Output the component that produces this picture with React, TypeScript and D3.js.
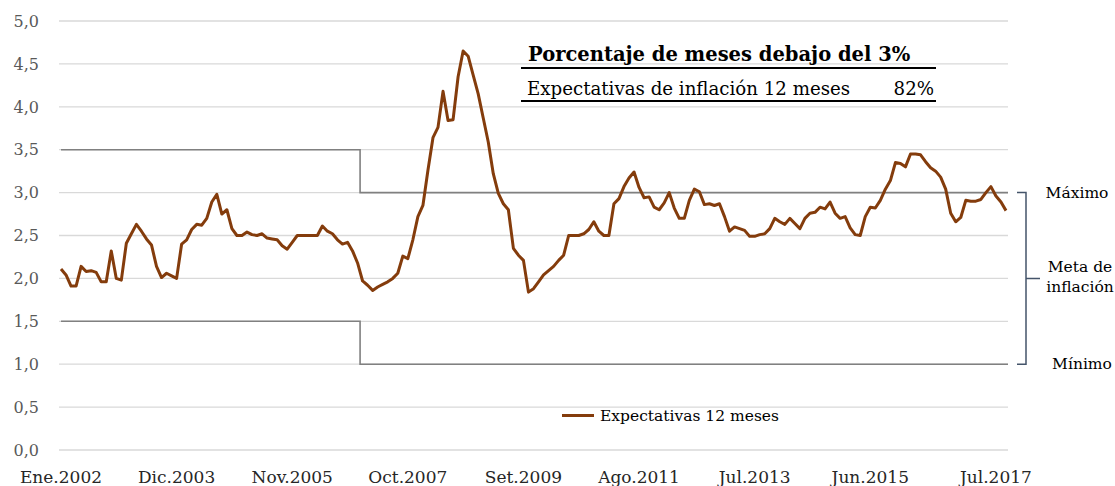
import React, { useEffect, useRef } from "react";
import * as d3 from "d3";

// Expectativas de inflación a 12 meses, mensual desde Ene.2002
const expectativas: number[] = [
  2.11, 2.04, 1.91, 1.91, 2.14, 2.08, 2.09, 2.07, 1.96, 1.96, 2.32, 2.0,
  1.98, 2.41, 2.52, 2.63, 2.55, 2.46, 2.39, 2.14, 2.01, 2.06, 2.03, 2.0,
  2.4, 2.45, 2.57, 2.63, 2.62, 2.7, 2.89, 2.98, 2.75, 2.8, 2.58, 2.5,
  2.5, 2.54, 2.51, 2.5, 2.52, 2.47, 2.46, 2.45, 2.38, 2.34, 2.42, 2.5,
  2.5, 2.5, 2.5, 2.5, 2.61, 2.55, 2.52, 2.45, 2.4, 2.42, 2.32, 2.18,
  1.97, 1.92, 1.86, 1.9, 1.93, 1.96, 2.0, 2.06, 2.26, 2.23, 2.45, 2.72,
  2.85, 3.26, 3.64, 3.76, 4.18, 3.84, 3.85, 4.35, 4.65, 4.59, 4.37, 4.15,
  3.87, 3.59, 3.22, 2.99, 2.87, 2.8, 2.35, 2.27, 2.21, 1.84, 1.88, 1.96,
  2.04, 2.09, 2.14, 2.21, 2.27, 2.5, 2.5, 2.5, 2.52, 2.57, 2.66, 2.55,
  2.5, 2.5, 2.87, 2.93, 3.07, 3.17, 3.24, 3.06, 2.94, 2.95, 2.83, 2.8,
  2.88, 3.0, 2.82, 2.7, 2.7, 2.91, 3.04, 3.01, 2.86, 2.87, 2.85, 2.87,
  2.72, 2.55, 2.6, 2.58, 2.56, 2.49, 2.49, 2.51, 2.52, 2.58, 2.7, 2.66,
  2.63, 2.7, 2.64, 2.58, 2.7, 2.76, 2.77, 2.83, 2.81, 2.89, 2.76, 2.7,
  2.72, 2.59, 2.51, 2.5, 2.72, 2.83, 2.82, 2.91, 3.04, 3.14, 3.35, 3.34,
  3.3, 3.45, 3.45, 3.44, 3.36, 3.29, 3.25, 3.18, 3.04, 2.76, 2.66, 2.71,
  2.91, 2.9, 2.9, 2.92, 3.0, 3.07, 2.96, 2.89, 2.79,
];

// Rango meta: tramos (índice de mes de inicio, máximo, mínimo)
const metaInicio = [0, 60];
const metaMaximo = [3.5, 3.0];
const metaMinimo = [1.5, 1.0];

const xTickIdx = [0, 23, 46, 69, 92, 115, 138, 161, 186];
const xTickLabels = [
  "Ene.2002", "Dic.2003", "Nov.2005", "Oct.2007", "Set.2009",
  "Ago.2011", "Jul.2013", "Jun.2015", "Jul.2017",
];
const yTicks = [0, 0.5, 1, 1.5, 2, 2.5, 3, 3.5, 4, 4.5, 5];

const tablaTitulo = "Porcentaje de meses debajo del 3%";
const tablaFila = "Expectativas de inflación 12 meses";
const tablaValor = "82%";

const FONT = "'DejaVu Serif', 'Liberation Serif', serif";
const BROWN = "#843c0c";

const App = () => {
  const svgRef = useRef<SVGSVGElement>(null);

  useEffect(() => {
    const svg = d3.select(svgRef.current);
    svg.selectAll("*").remove();

    const width = 1115;
    const height = 486;
    svg.attr("width", width).attr("height", height);

    const n = expectativas.length;
    const x = d3.scaleLinear().domain([0, n - 1]).range([61, 1006]);
    const y = d3.scaleLinear().domain([0, 5]).range([450, 21]);
    const gridX0 = 59;
    const gridX1 = 1008;

    // gridlines
    svg
      .append("g")
      .selectAll("line")
      .data(yTicks)
      .enter()
      .append("line")
      .attr("x1", gridX0)
      .attr("x2", gridX1)
      .attr("y1", (d) => y(d))
      .attr("y2", (d) => y(d))
      .attr("stroke", "#d9d9d9")
      .attr("stroke-width", 1.3);

    // y tick labels
    svg
      .append("g")
      .selectAll("text")
      .data(yTicks)
      .enter()
      .append("text")
      .attr("x", 39)
      .attr("y", (d) => y(d))
      .attr("dy", "0.36em")
      .attr("text-anchor", "end")
      .attr("font-family", FONT)
      .attr("font-size", 16)
      .attr("fill", "#595959")
      .text((d) => d3.format(".1f")(d).replace(".", ","));

    // x tick labels
    svg
      .append("g")
      .selectAll("text")
      .data(xTickIdx)
      .enter()
      .append("text")
      .attr("x", (d) => x(d))
      .attr("y", 483)
      .attr("text-anchor", "middle")
      .attr("font-family", FONT)
      .attr("font-size", 17)
      .attr("fill", "#262626")
      .text((d, i) => xTickLabels[i]);

    // target band lines (step)
    const stepLine = (vals: number[]) => {
      const pts: [number, number][] = [];
      vals.forEach((v, i) => {
        const start = i === 0 ? x(metaInicio[i]) : x(metaInicio[i] - 0.5);
        const end =
          i < vals.length - 1 ? x(metaInicio[i + 1] - 0.5) : gridX1;
        pts.push([start, y(v)], [end, y(v)]);
      });
      return d3.line()(pts);
    };
    [metaMaximo, metaMinimo].forEach((vals) => {
      svg
        .append("path")
        .attr("d", stepLine(vals))
        .attr("fill", "none")
        .attr("stroke", "#808080")
        .attr("stroke-width", 1.6);
    });

    // main series
    const line = d3
      .line<number>()
      .x((d, i) => x(i))
      .y((d) => y(d));
    svg
      .append("path")
      .datum(expectativas)
      .attr("d", line)
      .attr("fill", "none")
      .attr("stroke", BROWN)
      .attr("stroke-width", 3)
      .attr("stroke-linejoin", "round");

    // table
    const table = svg.append("g").attr("font-family", FONT).attr("fill", "#000");
    table
      .append("text")
      .attr("x", 528)
      .attr("y", 61)
      .attr("font-size", 19.5)
      .attr("font-weight", "bold")
      .text(tablaTitulo);
    table
      .append("text")
      .attr("x", 527)
      .attr("y", 95)
      .attr("font-size", 18.2)
      .text(tablaFila);
    table
      .append("text")
      .attr("x", 934)
      .attr("y", 95)
      .attr("text-anchor", "end")
      .attr("font-size", 18.2)
      .text(tablaValor);
    [68, 101].forEach((ly) => {
      table
        .append("line")
        .attr("x1", 521)
        .attr("x2", 936)
        .attr("y1", ly)
        .attr("y2", ly)
        .attr("stroke", "#000")
        .attr("stroke-width", 2);
    });

    // legend
    svg
      .append("line")
      .attr("x1", 562)
      .attr("x2", 594)
      .attr("y1", 415.5)
      .attr("y2", 415.5)
      .attr("stroke", BROWN)
      .attr("stroke-width", 3);
    svg
      .append("text")
      .attr("x", 600)
      .attr("y", 421)
      .attr("font-family", FONT)
      .attr("font-size", 15.5)
      .attr("fill", "#000")
      .text("Expectativas 12 meses");

    // bracket on the right
    const yTop = y(metaMaximo[metaMaximo.length - 1]);
    const yBot = y(metaMinimo[metaMinimo.length - 1]);
    const bx = 1026;
    svg
      .append("path")
      .attr(
        "d",
        `M1017,${yTop}H${bx}V${yBot}H1017M${bx},${(yTop + yBot) / 2}H1040`
      )
      .attr("fill", "none")
      .attr("stroke", "#44546a")
      .attr("stroke-width", 1.5);

    const side = svg
      .append("g")
      .attr("font-family", FONT)
      .attr("font-size", 15.5)
      .attr("fill", "#000")
      .attr("text-anchor", "middle");
    side.append("text").attr("x", 1077).attr("y", yTop + 5).text("Máximo");
    side.append("text").attr("x", 1080).attr("y", 272).text("Meta de");
    side.append("text").attr("x", 1080).attr("y", 292).text("inflación");
    side.append("text").attr("x", 1082).attr("y", yBot + 5).text("Mínimo");
  }, []);

  return (
    <svg
      ref={svgRef}
      style={{ position: "absolute", left: 0, top: 0, background: "#fff" }}
    ></svg>
  );
};

export default App;
